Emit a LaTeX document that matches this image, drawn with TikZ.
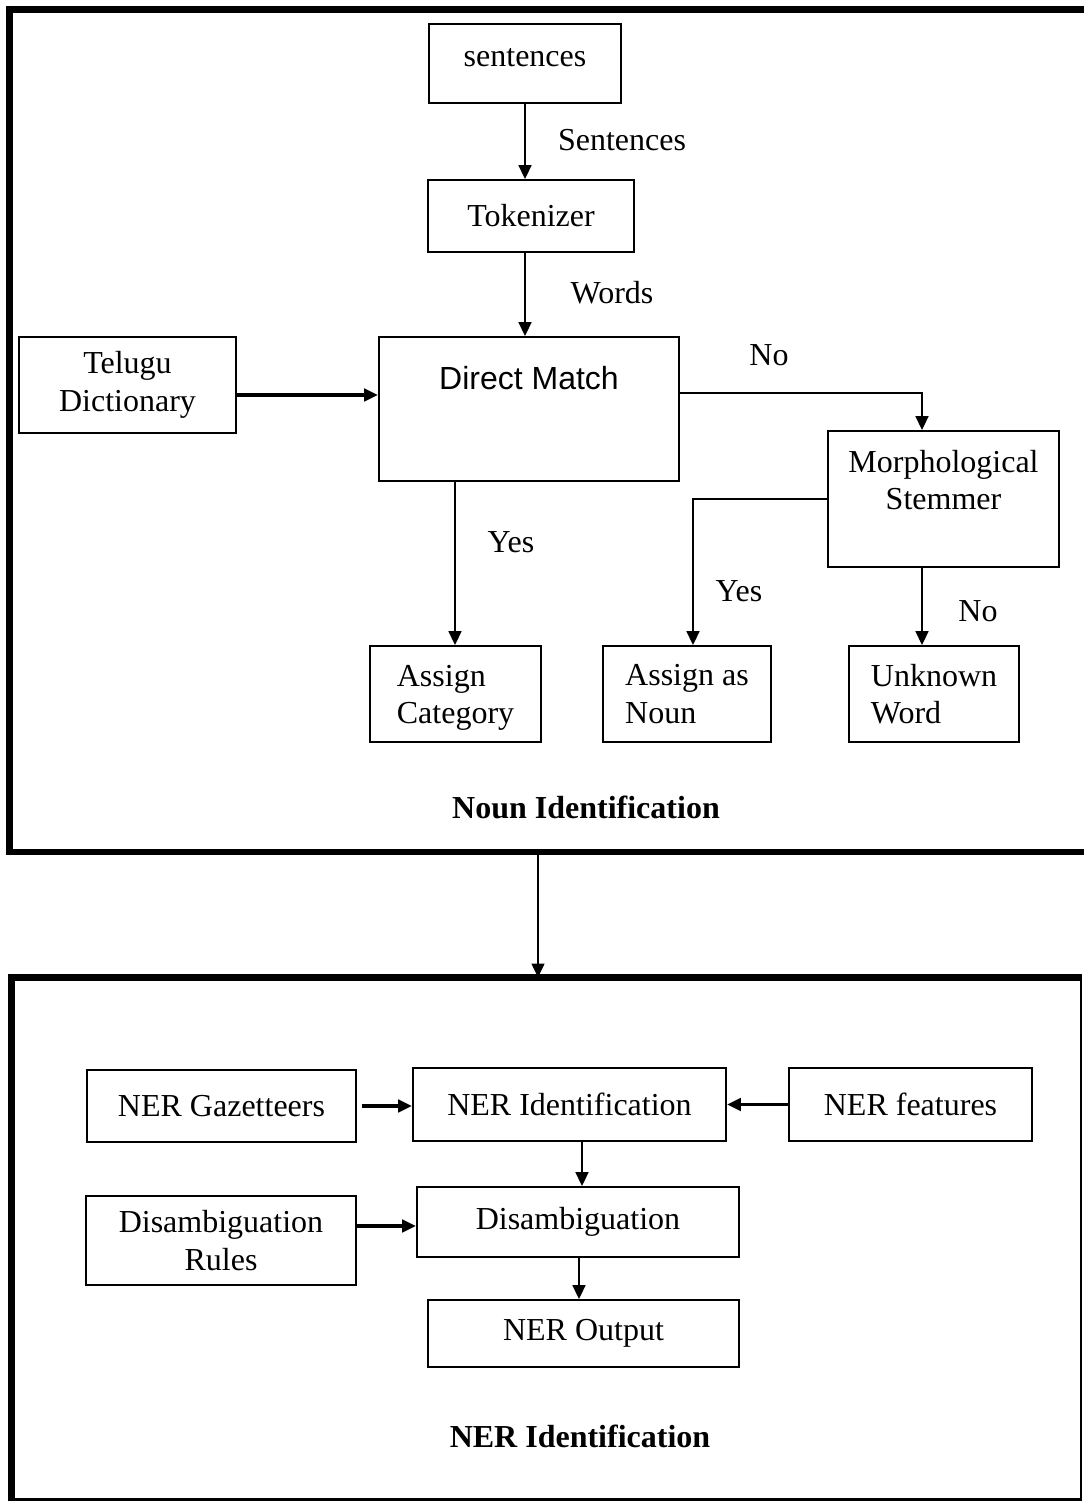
\documentclass[tikz,border=0pt]{standalone}
\usepackage{fontspec}
\setmainfont{Liberation Serif}
\setsansfont{Liberation Sans}
\usetikzlibrary{arrows.meta}

\tikzset{
  every node/.style={font=\fontsize{12}{14}\selectfont},
  box/.style={draw, line width=0.7pt, inner sep=0pt, align=center},
  sz/.style 2 args={minimum width=#1*0.375pt, minimum height=#2*0.375pt},
  frame/.style={draw, line width=2.3pt},
  link/.style={line width=0.75pt, -{Triangle[length=5.2pt,width=4.8pt]}},
  feed/.style={line width=1.4pt, -{Triangle[length=5.2pt,width=4.6pt]}},
  tag/.style={inner sep=0pt},
  title/.style={inner sep=0pt, font=\fontsize{12}{14}\selectfont\bfseries}
}

\begin{document}
\begin{tikzpicture}[x=0.375pt, y=-0.375pt]
\useasboundingbox (0,0) rectangle (1084,1503);
\node[frame, inner sep=0pt, sz={1085.5}{842.5}] (nounframe) at (552.25,430.75) {};
\node[draw, line width=0.8pt, inner sep=0pt, sz={1068.5}{521}] (nerframe) at (546.75,1239) {};
\draw[line width=2.3pt] (nerframe.south west) |- (nerframe.north east);

\node[box, sz={192}{79}, label={[yshift=2.2pt]center:sentences}] (sent) at (525,63.5) {};
\node[box, sz={206}{72}] (tok) at (531,216) {Tokenizer};
\node[box, sz={300}{144}, label={[font=\fontsize{12}{14}\selectfont\sffamily, yshift=11.6pt]center:Direct Match}] (match) at (529,409) {};
\node[box, sz={217}{96}] (dict) at (127.5,385) {Telugu\\Dictionary};
\node[box, sz={231}{136}, label={[align=center, yshift=7.1pt]center:{Morphological\\Stemmer}}] (morph) at (943.5,499) {};
\node[box, sz={171}{96}, align=left, label={[align=left, yshift=-1.5pt]center:{Assign\\Category}}] (acat) at (455.5,694) {};
\node[box, sz={168}{96}, align=left] (anoun) at (687,694) {Assign as\\Noun};
\node[box, sz={170}{96}, align=left] (unk) at (934,694) {Unknown\\Word};

\node[tag] (sentlbl) at (622,140) {Sentences};
\node[tag] (wordlbl) at (612,293) {Words};
\node[tag] (nolbl) at (769,355) {No};
\node[tag] (yeslbl) at (511,542) {Yes};
\node[tag] (yesstem) at (739,591) {Yes};
\node[tag] (nostem) at (978,611) {No};
\node[title] (nountitle) at (586,807) {Noun Identification};

\draw[link] (sent.south) -- (sent.south |- tok.north);
\draw[link] (sent.south |- tok.south) -- (sent.south |- match.north);
\coordinate (dictout) at (dict.east |- 0,395);
\draw[feed] (dictout) -- (dictout -| match.west);
\coordinate (noout) at (match.east |- 0,393);
\draw[link] (noout) -| (morph.north -| 922,0);
\draw[link] (match.south -| 455,0) -- (acat.north -| 455,0);
\draw[link] (morph.west) -| (anoun.north -| 693,0);
\draw[link] (morph.south -| 922,0) -- (unk.north -| 922,0);
\draw[link] (nounframe.south -| 538,0) -- (nerframe.north -| 538,0);

\node[box, sz={269}{72}] (gaz) at (221.5,1106) {NER Gazetteers};
\node[box, sz={313}{73}] (nerid) at (569.5,1104.5) {NER Identification};
\node[box, sz={243}{73}] (feat) at (910.5,1104.5) {NER features};
\node[box, sz={322}{70}] (disamb) at (578,1222) {Disambiguation};
\node[box, sz={270}{89}] (rules) at (221,1240.5) {Disambiguation\\Rules};
\node[box, sz={311}{67}] (nerout) at (583.5,1333.5) {NER Output};
\node[title] (nertitle) at (580,1436) {NER Identification};

\draw[feed, shorten <=2pt] (gaz.east) -- (gaz.east -| nerid.west);
\draw[feed] (feat.west) -- (feat.west -| nerid.east);
\draw[link] (nerid.south -| 582,0) -- (disamb.north -| 582,0);
\coordinate (rulesout) at (rules.east |- 0,1226);
\draw[feed] (rulesout) -- (rulesout -| disamb.west);
\draw[link] (disamb.south -| 579,0) -- (nerout.north -| 579,0);
\end{tikzpicture}
\end{document}
